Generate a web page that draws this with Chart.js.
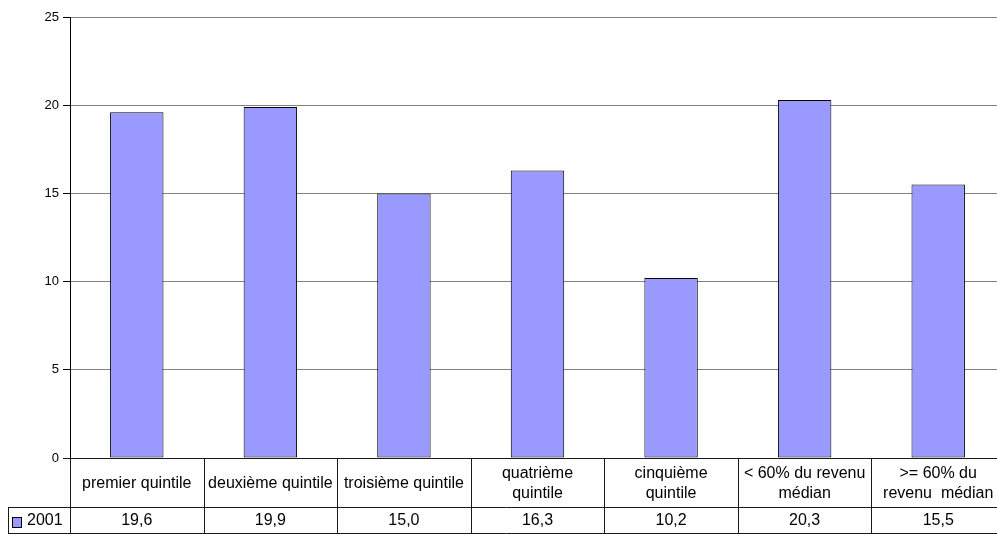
<!DOCTYPE html>
<html>
<head>
<meta charset="utf-8">
<script src="https://cdn.jsdelivr.net/npm/chart.js@4/dist/chart.umd.min.js"></script>
<style>
  html, body { margin: 0; padding: 0; overflow: hidden; background: #fff; }
  #wrap { position: relative; width: 1005px; height: 534px; }
</style>
</head>
<body>
<div id="wrap"><canvas id="graphique"></canvas></div>
<script>
// Données
const categories = [
  ['premier quintile'],
  ['deuxième quintile'],
  ['troisième quintile'],
  ['quatrième', 'quintile'],
  ['cinquième', 'quintile'],
  ['< 60% du revenu', 'médian'],
  ['>= 60% du', 'revenu  médian']
];
const serie2001 = [19.6, 19.9, 15.0, 16.3, 10.2, 20.3, 15.5];
const nomSerie = '2001';
const ticksY = [0, 5, 10, 15, 20, 25];

const police = '"Liberation Sans", Arial, sans-serif';
const couleurBarre = '#9999ff';

// Tableau de données sous l'axe (style Excel)
const tableauDonnees = {
  id: 'tableauDonnees',
  afterDraw(chart) {
    const { ctx, chartArea, scales } = chart;
    const x = scales.x;
    const haut = chartArea.bottom;
    const milieu = haut + 49;
    const bas = haut + 75;
    const pas = x.getPixelForValue(1) - x.getPixelForValue(0);

    ctx.save();
    ctx.strokeStyle = '#1a1a1a';
    ctx.lineWidth = 1;
    ctx.beginPath();
    // lignes horizontales
    ctx.moveTo(chartArea.left - 7, haut + 0.5);
    ctx.lineTo(chartArea.right, haut + 0.5);
    ctx.moveTo(8, milieu + 0.5);
    ctx.lineTo(chartArea.right, milieu + 0.5);
    ctx.moveTo(8, bas + 0.5);
    ctx.lineTo(chartArea.right, bas + 0.5);
    // bord gauche de la légende
    ctx.moveTo(8.5, milieu);
    ctx.lineTo(8.5, bas);
    // séparateurs verticaux
    for (let i = 0; i <= categories.length; i++) {
      const px = Math.round(x.getPixelForValue(i) - pas / 2) + 0.5;
      ctx.moveTo(px, haut);
      ctx.lineTo(px, bas);
    }
    ctx.stroke();

    ctx.fillStyle = '#000';
    ctx.font = '16px ' + police;
    ctx.textAlign = 'center';
    ctx.textBaseline = 'middle';
    const interligne = 20;
    categories.forEach((lignes, i) => {
      const cx = x.getPixelForValue(i);
      const cy = (haut + milieu) / 2 - (lignes.length - 1) * interligne / 2;
      lignes.forEach((txt, j) => ctx.fillText(txt, cx, cy + j * interligne + 1));
      const val = serie2001[i].toFixed(1).replace('.', ',');
      ctx.fillText(val, cx, (milieu + bas) / 2 + 1);
    });

    // légende
    ctx.fillStyle = couleurBarre;
    ctx.fillRect(12.5, 517.5, 9, 10);
    ctx.strokeStyle = '#000';
    ctx.strokeRect(12.5, 517.5, 9, 10);
    ctx.fillStyle = '#000';
    ctx.textAlign = 'left';
    ctx.fillText(nomSerie, 27, (milieu + bas) / 2 + 1);
    ctx.restore();
  }
};

new Chart(document.getElementById('graphique'), {
  type: 'bar',
  data: {
    labels: categories,
    datasets: [{
      label: nomSerie,
      data: serie2001,
      backgroundColor: couleurBarre,
      borderColor: '#000',
      borderWidth: 1,
      borderSkipped: false,
      barPercentage: 0.4,
      categoryPercentage: 1.0
    }]
  },
  options: {
    responsive: true,
    maintainAspectRatio: false,
    animation: false,
    layout: { padding: { top: 17, left: 0, right: 0, bottom: 0 } },
    plugins: {
      legend: { display: false },
      tooltip: { enabled: false }
    },
    scales: {
      x: {
        ticks: { display: false },
        grid: { display: false },
        border: { display: false },
        afterFit: (scale) => { scale.height = 76; }
      },
      y: {
        min: ticksY[0],
        max: ticksY[ticksY.length - 1],
        afterBuildTicks: (scale) => { scale.ticks = ticksY.map(v => ({ value: v })); },
        ticks: {
          color: '#000',
          padding: 4,
          font: { family: police, size: 13 }
        },
        grid: {
          color: '#808080',
          tickColor: '#000',
          tickLength: 7
        },
        border: { color: '#000', width: 1 },
        afterFit: (scale) => { scale.width = 70; }
      }
    }
  },
  plugins: [tableauDonnees]
});
</script>
</body>
</html>
